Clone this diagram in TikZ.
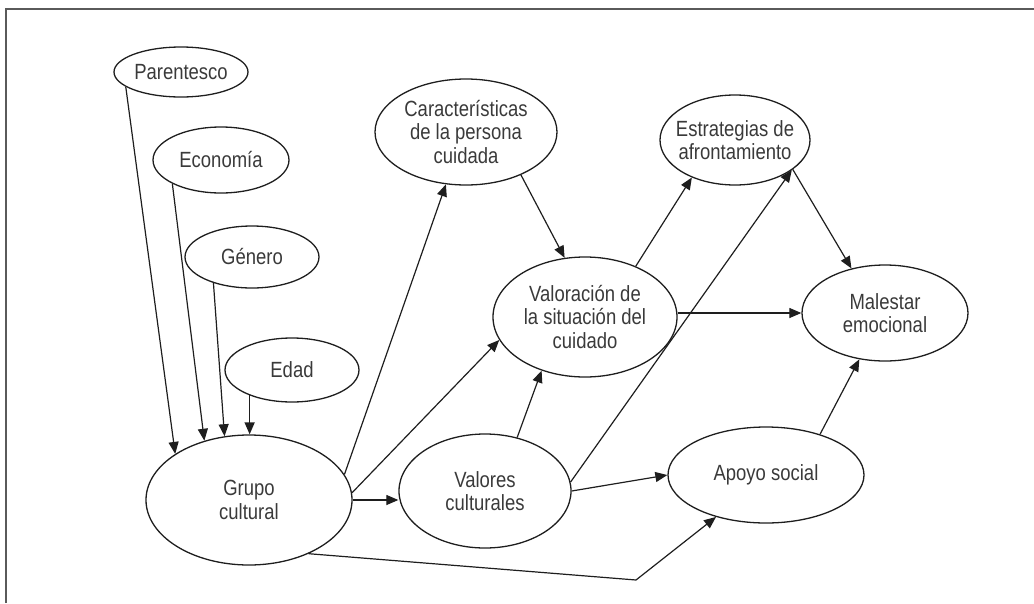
\documentclass[tikz,border=0pt]{standalone}
\usepackage{fontspec}
\setmainfont{Liberation Sans}[FakeStretch=0.84]
\usetikzlibrary{shapes.geometric,arrows.meta}
\definecolor{ink}{HTML}{1E1E1E}
\definecolor{txt}{HTML}{3A3A3A}
\definecolor{framecol}{HTML}{5A5A5A}
\begin{document}
\begin{tikzpicture}[x=1pt,y=-1pt,
  ell/.style={draw=ink, ellipse, line width=1.3pt, inner sep=0pt},
  lbl/.style={align=center, text=txt, inner sep=0pt, font=\fontsize{22}{23.5}\selectfont},
  arr/.style={draw=ink, line width=1.2pt, -{Triangle[length=12pt,width=10pt]}},
  plain/.style={draw=ink, line width=1.2pt}
]
\useasboundingbox (0,0) rectangle (1034,603);
\draw[framecol, line width=2pt] (6,603) -- (6,9) -- (1034,9);

% ellipses
\node[ell, minimum width=134pt, minimum height=50pt] (par) at (181,72) {};
\node[ell, minimum width=136pt, minimum height=66pt] (eco) at (221,160) {};
\node[ell, minimum width=134pt, minimum height=62pt] (gen) at (252,257) {};
\node[ell, minimum width=134pt, minimum height=64pt] (eda) at (292,370) {};
\node[ell, minimum width=206pt, minimum height=130pt] (gru) at (249,500) {};
\node[ell, minimum width=172pt, minimum height=114pt] (val) at (485,491) {};
\node[ell, minimum width=182pt, minimum height=106pt] (car) at (466,132) {};
\node[ell, minimum width=150pt, minimum height=90pt] (est) at (735,140) {};
\node[ell, minimum width=184pt, minimum height=120pt] (vsc) at (585,317) {};
\node[ell, minimum width=166pt, minimum height=96pt] (mal) at (885,313) {};
\node[ell, minimum width=196pt, minimum height=96pt] (apo) at (766,475) {};

% labels
\node[lbl] (tpar) at (par) {Parentesco};
\node[lbl] (teco) at (eco) {Economía};
\node[lbl] (tgen) at (gen) {Género};
\node[lbl] (teda) at (eda) {Edad};
\node[lbl] (tgru) at (gru) {Grupo\\cultural};
\node[lbl] (tval) at (val) {Valores\\culturales};
\node[lbl] (tcar) at (car) {Características\\de la persona\\cuidada};
\node[lbl] (test) at (est) {Estrategias de\\afrontamiento};
\node[lbl] (tvsc) at (vsc) {Valoración de\\la situación del\\cuidado};
\node[lbl] (tmal) at (mal) {Malestar\\emocional};
\node[lbl] (tapo) at (apo) {Apoyo social};

% connectors
\draw[arr] (par.195) -- (gru.148);
\draw[arr] (eco.206) -- (gru.127);
\draw[arr] (gen.214) -- (gru.111);
\draw[arr, line width=1.5pt] (eda.211) -- (eda.211 |- gru.north);
\draw[arr] (gru.15) -- (car.249);
\draw[arr] (gru.4) -- (vsc.195);
\draw[arr] (gru.east) -- (val.west |- gru.east);
\draw[arr] (val.59) -- (vsc.231);
\draw[arr] (val.6) -- (est.332);
\draw[arr] (val.east) -- (apo.west);
\coordinate (bend) at (636,580);
\draw[arr] (gru.318) -- (bend) -- (apo.220);
\draw[arr] (car.322) -- (vsc.109);
\draw[arr] (vsc.45) -- (est.221);
\draw[arr] (est.333) -- (mal.127);
\draw[arr] (mal.west -| vsc.east) -- (mal.west);
\draw[arr] (apo.37) -- (mal.241);
\end{tikzpicture}
\end{document}
